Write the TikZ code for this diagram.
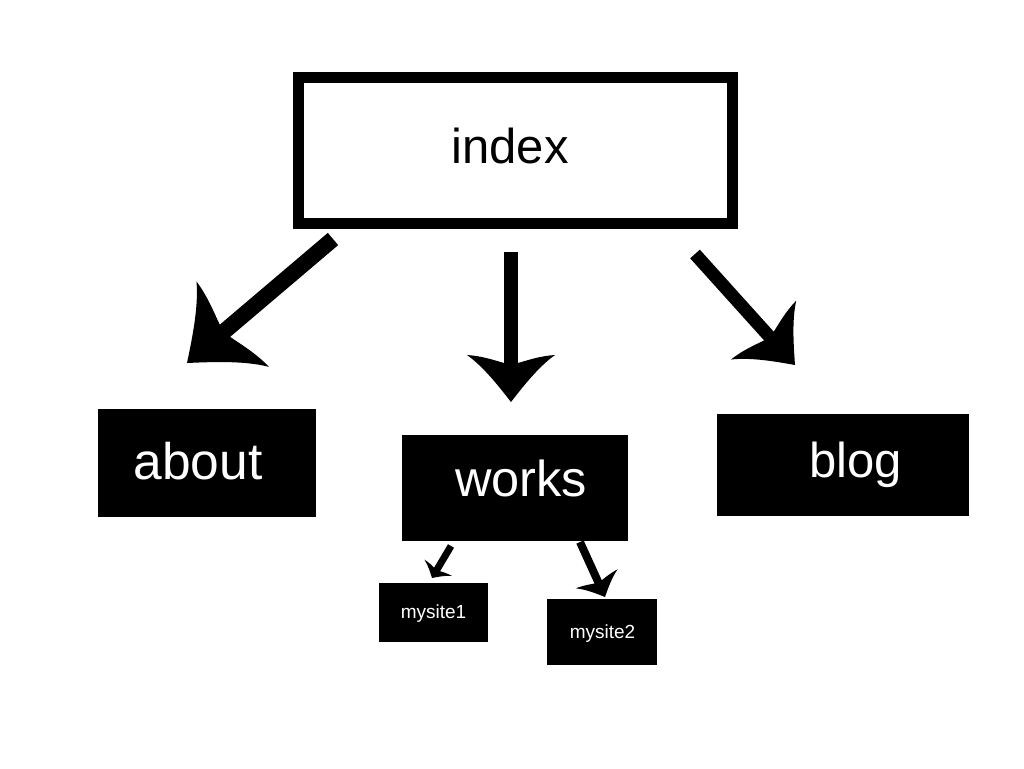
\documentclass[tikz,border=0pt]{standalone}
\usepackage{fontspec}
\setmainfont{Liberation Sans}
\usetikzlibrary{calc}
% point at distance/angle from the tip, measured back toward the start
\newcommand\hd[5]{% #1 name, #2 u, #3 v, #4 start, #5 tip
  \pgfmathsetmacro\tmpd{veclen(#2,#3)}%
  \pgfmathsetmacro\tmpa{atan2(#3,#2)}%
  \coordinate (#1) at ($(#5)!\tmpd pt!\tmpa:(#4)$);}
\newcommand\barbarrow[6]{% #1 prefix, #2 start, #3 tip, #4 L, #5 W, #6 shaft width
  \pgfmathsetmacro\bL{#4}\pgfmathsetmacro\bW{#5}\pgfmathsetmacro\bs{#6/2}%
  \hd{#1c1}{0.3*\bL}{0.25*\bW}{#2}{#3}%
  \hd{#1c2}{0.75*\bL}{0.62*\bW}{#2}{#3}%
  \hd{#1b}{\bL}{\bW}{#2}{#3}%
  \hd{#1c3}{0.98*\bL}{0.65*\bW}{#2}{#3}%
  \hd{#1c4}{0.88*\bL}{0.35*\bW}{#2}{#3}%
  \hd{#1n}{0.83*\bL}{\bs}{#2}{#3}%
  \hd{#1cc1}{0.3*\bL}{-0.25*\bW}{#2}{#3}%
  \hd{#1cc2}{0.75*\bL}{-0.62*\bW}{#2}{#3}%
  \hd{#1bb}{\bL}{-\bW}{#2}{#3}%
  \hd{#1cc3}{0.98*\bL}{-0.65*\bW}{#2}{#3}%
  \hd{#1cc4}{0.88*\bL}{-0.35*\bW}{#2}{#3}%
  \hd{#1nn}{0.83*\bL}{-\bs}{#2}{#3}%
  \hd{#1m}{0.78*\bL}{0}{#2}{#3}%
  \draw[shaft, line width=#6pt] (#2) -- (#1m);
  \fill[headfill] (#3) .. controls (#1c1) and (#1c2) .. (#1b)
     .. controls (#1c3) and (#1c4) .. (#1n) -- (#1nn)
     .. controls (#1cc4) and (#1cc3) .. (#1bb)
     .. controls (#1cc2) and (#1cc1) .. (#3) -- cycle;}
\begin{document}
\begin{tikzpicture}[x=1pt,y=-1pt,
  blackbox/.style={fill=black, draw=none, inner sep=0pt, outer sep=0pt},
  framebox/.style={draw=black, line width=11pt, fill=white, inner sep=0pt, outer sep=0pt},
  bigtext/.style={font=\fontsize{49}{49}\selectfont, anchor=base, inner sep=0pt},
  smalltext/.style={font=\fontsize{19}{19}\selectfont, anchor=base, inner sep=0pt, text=white},
  shaft/.style={draw=black, line cap=butt},
  headfill/.style={fill=black}]
\useasboundingbox (0,0) rectangle (1024,768);
\fill[white] (0,0) rectangle (1024,768);

% boxes
\node[framebox, minimum width=434pt, minimum height=146pt] (index) at (515,150) {};
\node[blackbox, minimum width=218pt, minimum height=108pt] (about) at (207,463) {};
\node[blackbox, minimum width=226pt, minimum height=106pt] (works) at (515,488) {};
\node[blackbox, minimum width=252pt, minimum height=102pt] (blog) at (843,465) {};
\node[blackbox, minimum width=109pt, minimum height=59pt] (mysite1) at (433.5,612.5) {};
\node[blackbox, minimum width=110pt, minimum height=66pt] (mysite2) at (602,632) {};

% labels
\node[bigtext, text=black] (tindex) at (510,163) {index};
\node[bigtext, text=white, font=\fontsize{51.5}{51.5}\selectfont] (tabout) at (198,479) {about};
\node[bigtext, text=white, font=\fontsize{50.5}{50.5}\selectfont] (tworks) at (521,496) {works};
\node[bigtext, text=white] (tblog) at (855.5,477) {blog};
\node[smalltext] (tmysite1) at (433.5,618) {mysite1};
\node[smalltext] (tmysite2) at (602.5,638) {mysite2};

% arrow end points
\coordinate (s1) at (333,239); \coordinate (t1) at (187,363);
\coordinate (s2) at (511,252); \coordinate (t2) at (511,402);
\coordinate (s3) at (695,254); \coordinate (t3) at (795,365);
\coordinate (s4) at (451,546); \coordinate (t4) at (432,578);
\coordinate (s5) at (580,542); \coordinate (t5) at (605,597);

\barbarrow{aA}{s1}{t1}{60}{56}{16}
\barbarrow{aB}{s2}{t2}{47}{44}{14}
\barbarrow{aC}{s3}{t3}{47}{44}{13}
\barbarrow{aD}{s4}{t4}{12}{16}{7}
\barbarrow{aE}{s5}{t5}{20}{23}{8}
\end{tikzpicture}
\end{document}
